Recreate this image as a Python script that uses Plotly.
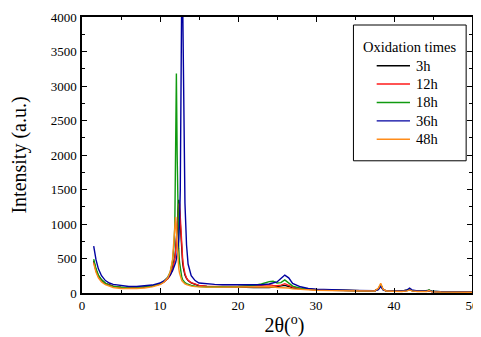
import plotly.graph_objects as go

two_theta = [1.5, 1.8, 2.1, 2.5, 3, 3.5, 4, 5, 6, 7,
             8, 9, 10, 10.5, 11, 11.3, 11.6, 11.8, 11.9, 12.0,
             12.1, 12.2, 12.3, 12.4, 12.5, 12.6, 12.7, 12.8, 12.9, 13.0,
             13.1, 13.2, 13.4, 13.6, 14, 14.5, 15, 16, 17, 18,
             20, 22, 23, 24, 24.5, 25, 25.5, 26, 26.5, 27,
             28, 29, 30, 32, 35, 37.5, 38.0, 38.3, 38.6, 39,
             41, 41.7, 42, 42.3, 43, 44.2, 44.5, 44.8, 46, 50]

i_3h = [470, 330, 250, 190, 140, 115, 100, 82, 75, 78,
        85, 100, 130, 160, 210, 260, 350, 450, 520, 620,
        760, 950, 1200, 1350, 1200, 950, 720, 560, 440, 360,
        300, 260, 210, 180, 145, 120, 105, 95, 90, 88,
        85, 80, 75, 80, 85, 90, 100, 110, 95, 75,
        60, 50, 45, 40, 32, 28, 60, 120, 50, 28,
        25, 35, 55, 35, 25, 25, 35, 22, 18, 12]

i_12h = [450, 320, 240, 180, 135, 110, 95, 80, 75, 78,
         85, 100, 130, 160, 210, 260, 340, 430, 500, 600,
         730, 900, 1100, 1280, 1300, 1100, 850, 650, 500, 400,
         330, 280, 220, 185, 150, 125, 110, 100, 95, 95,
         95, 110, 120, 120, 110, 105, 115, 135, 110, 85,
         65, 55, 48, 42, 35, 30, 60, 120, 50, 30,
         25, 35, 50, 35, 25, 25, 35, 22, 18, 12]

i_18h = [490, 350, 260, 190, 140, 110, 95, 80, 75, 78,
         85, 100, 135, 170, 230, 300, 450, 700, 1000, 1800,
         3180, 2000, 1050, 650, 450, 340, 270, 225, 195, 175,
         160, 150, 135, 125, 110, 100, 92, 88, 88, 90,
         95, 110, 130, 165, 170, 145, 150, 190, 150, 100,
         70, 55, 48, 42, 35, 30, 60, 125, 50, 30,
         25, 35, 50, 35, 25, 28, 45, 25, 18, 12]

i_36h = [680, 480, 350, 250, 180, 145, 125, 105, 95, 95,
         100, 115, 145, 175, 220, 260, 320, 370, 400, 440,
         490, 560, 650, 780, 1000, 1500, 2600, 4600, 4300, 3000,
         2000, 1300, 700, 420, 250, 180, 145, 130, 125, 120,
         118, 118, 120, 130, 140, 160, 210, 260, 220, 140,
         90, 65, 55, 45, 38, 32, 50, 95, 45, 32,
         28, 45, 70, 45, 30, 28, 35, 25, 20, 14]

i_48h = [430, 300, 220, 160, 120, 95, 80, 65, 62, 65,
         72, 88, 120, 155, 220, 300, 480, 800, 1050, 1100,
         900, 650, 470, 360, 290, 240, 205, 180, 165, 150,
         140, 132, 120, 110, 100, 92, 87, 85, 85, 85,
         87, 92, 95, 95, 90, 80, 78, 80, 72, 60,
         50, 45, 40, 35, 30, 28, 70, 140, 55, 28,
         22, 30, 45, 30, 22, 22, 35, 20, 15, 10]

series_names = ["3h", "12h", "18h", "36h", "48h"]
series_values = [i_3h, i_12h, i_18h, i_36h, i_48h]
series_colors = ["#000000", "#ff1a1a", "#109a10", "#0000a0", "#ff8c1a"]
legend_title = "Oxidation times"

FONT = "Liberation Serif"

fig = go.Figure()
for name, vals, col in zip(series_names, series_values, series_colors):
    fig.add_trace(go.Scatter(x=two_theta, y=vals, mode="lines", name=name,
                             showlegend=False, line=dict(color=col, width=1.4)))

# Boxed legend drawn in paper coordinates (the page body adds an 8px offset)
shapes = [dict(type="rect", xref="paper", yref="paper",
               x0=0.696, x1=0.985, y0=0.479, y1=0.971,
               line=dict(color="black", width=1), fillcolor="rgba(0,0,0,0)")]
annotations = [dict(text=legend_title, xref="paper", yref="paper",
                    x=0.840, y=0.890, xanchor="center", yanchor="middle",
                    showarrow=False, font=dict(family=FONT, size=14.5))]
row0, row_step = 0.8236, 0.0666
for k, (name, col) in enumerate(zip(series_names, series_colors)):
    yy = row0 - k * row_step
    shapes.append(dict(type="line", xref="paper", yref="paper",
                       x0=0.7556, x1=0.841, y0=yy, y1=yy,
                       line=dict(color=col, width=1.4)))
    annotations.append(dict(text=name, xref="paper", yref="paper",
                            x=0.851, y=yy, xanchor="left", yanchor="middle",
                            showarrow=False, font=dict(family=FONT, size=14.5)))

fig.update_layout(
    width=470, height=329,
    margin=dict(l=74, r=6, t=9, b=44),
    paper_bgcolor="white", plot_bgcolor="white",
    font=dict(family=FONT, size=13, color="black"),
    showlegend=False,
    shapes=shapes,
    annotations=annotations,
)

fig.update_xaxes(range=[0, 50], dtick=10, tick0=0, showline=True, linecolor="black",
                 linewidth=1.5, mirror="ticks", ticks="inside", ticklen=5, tickwidth=1,
                 tickcolor="black", showgrid=False, zeroline=False, automargin=False,
                 ticklabeloverflow="allow",
                 minor=dict(dtick=5, ticks="inside", ticklen=3, tickcolor="black"),
                 title=dict(text="&nbsp;&nbsp;&nbsp;2θ(<sup>o</sup>)",
                            font=dict(family=FONT, size=20), standoff=10),
                 tickfont=dict(family=FONT, size=13))
fig.update_yaxes(range=[0, 4000], dtick=500, tick0=0, showline=True, linecolor="black",
                 linewidth=1.5, mirror="ticks", ticks="inside", ticklen=5, tickwidth=1,
                 tickcolor="black", showgrid=False, zeroline=False, automargin=False,
                 ticklabeloverflow="allow",
                 minor=dict(dtick=250, ticks="inside", ticklen=3, tickcolor="black"),
                 title=dict(text="Intensity (a.u.)", font=dict(family=FONT, size=20),
                            standoff=19),
                 tickfont=dict(family=FONT, size=13), ticklabelstandoff=1)

fig.write_html("out.html")
